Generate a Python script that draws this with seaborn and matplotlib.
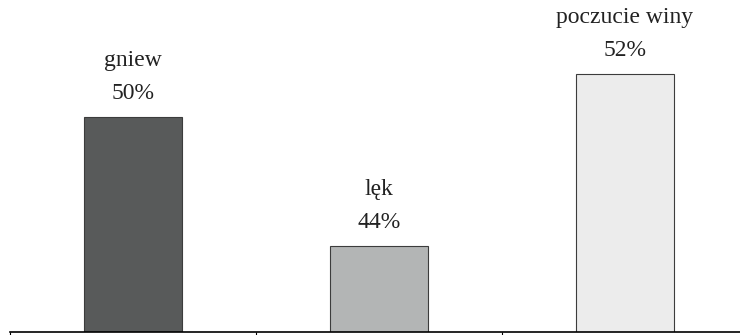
import matplotlib
matplotlib.use("Agg")
import matplotlib.pyplot as plt
import pandas as pd
import seaborn as sns

categories = ["gniew", "lęk", "poczucie winy"]
values = [50, 44, 52]
colors = ["#575b5b", "#b2b5b6", "#ececec"]

sns.set_style("white")
plt.rcParams["font.family"] = ["Liberation Serif", "DejaVu Serif"]

df = pd.DataFrame({"kategoria": categories, "procent": values})

fig = plt.figure(figsize=(7.4, 3.35), dpi=100)
ax = fig.add_axes([10 / 740, 3 / 335, 738 / 740, 332 / 335])

sns.barplot(data=df, x="kategoria", y="procent", hue="kategoria",
            palette=colors, width=0.4, edgecolor="#3c3c3c", linewidth=0.8,
            legend=False, ax=ax)

ax.set_xlim(-0.5, 2.5)
ax.set_ylim(40, 40 + 332 / 21.5)

for i, (name, val) in enumerate(zip(categories, values)):
    ax.annotate(f"{val}%", (i, val), xytext=(0, 13), textcoords="offset points",
                ha="center", va="baseline", fontsize=17, color="#222222")
    ax.annotate(name, (i, val), xytext=(0, 36.5), textcoords="offset points",
                ha="center", va="baseline", fontsize=17, color="#222222")

for s in ["top", "right", "left"]:
    ax.spines[s].set_visible(False)
ax.spines["bottom"].set_color("black")
ax.spines["bottom"].set_linewidth(1.2)

ax.set_xlabel("")
ax.set_ylabel("")
ax.set_yticks([])
ax.set_xticks([])
ax.set_xticks([-0.5, 0.5, 1.5, 2.5], minor=True)
ax.tick_params(axis="x", which="minor", length=3, width=0.8, direction="out",
               bottom=True, color="black")

fig.savefig("out.png", dpi=100)
